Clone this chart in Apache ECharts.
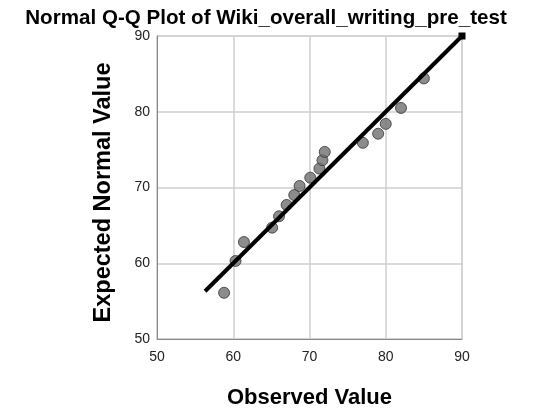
<!DOCTYPE html>
<html>
<head>
<meta charset="utf-8">
<script src="https://cdn.jsdelivr.net/npm/echarts@6/dist/echarts.min.js"></script>
<style>
  html, body { margin: 0; padding: 0; background: #fff; }
  #chart { width: 540px; height: 414px; }
</style>
</head>
<body>
<div id="chart"></div>
<script>
// Observed scores and their expected normal quantiles
var observed = [58.8, 60.3, 61.4, 65.1, 66.0, 67.0, 68.0, 68.7, 70.1, 71.3, 71.7, 72.0, 77.0, 79.0, 80.0, 82.0, 85.0];
var expected = [56.1, 60.3, 62.8, 64.7, 66.2, 67.7, 69.0, 70.2, 71.3, 72.5, 73.6, 74.7, 75.9, 77.1, 78.4, 80.5, 84.4];
// Reference line y = x
var refLine = [56.3, 90];
var xTicks = [50, 60, 70, 80, 90];
var yTicks = [50, 60, 70, 80, 90];

var points = observed.map(function (v, i) { return [v, expected[i]]; });
var lineData = refLine.map(function (v, i) {
  return i === 0 ? { value: [v, v], symbol: 'none' } : { value: [v, v] };
});

var chart = echarts.init(document.getElementById('chart'), null, { renderer: 'canvas' });
var font = 'Arial, "Liberation Sans", sans-serif';

chart.setOption({
  animation: false,
  title: {
    text: 'Normal Q-Q Plot of Wiki_overall_writing_pre_test',
    left: 261, top: 3, textAlign: 'center',
    textStyle: { fontFamily: font, fontSize: 20.6, fontWeight: 'bold', color: '#000' }
  },
  grid: { left: 157, right: 78, top: 36, bottom: 75, show: true, borderColor: '#c8c8c8', borderWidth: 1 },
  xAxis: {
    type: 'value', min: xTicks[0], max: xTicks[xTicks.length - 1], interval: 10,
    name: 'Observed Value', nameLocation: 'middle', nameGap: 48,
    nameTextStyle: { fontFamily: font, fontSize: 22, fontWeight: 'bold', color: '#000' },
    axisLine: { show: true, lineStyle: { color: '#888', width: 1 } },
    axisTick: { show: false },
    axisLabel: { fontFamily: font, fontSize: 14, color: '#222', margin: 11 },
    splitLine: { show: true, lineStyle: { color: '#cfcfcf', width: 1.5 } }
  },
  yAxis: {
    type: 'value', min: yTicks[0], max: yTicks[yTicks.length - 1], interval: 10,
    name: 'Expected Normal Value', nameLocation: 'middle', nameGap: 41, nameRotate: 90,
    nameTextStyle: { fontFamily: font, fontSize: 23.5, fontWeight: 'bold', color: '#000', padding: [0, 10, 0, 0] },
    axisLine: { show: true, lineStyle: { color: '#888', width: 1 } },
    axisTick: { show: false },
    axisLabel: { fontFamily: font, fontSize: 14, color: '#222', margin: 7 },
    splitLine: { show: true, lineStyle: { color: '#cfcfcf', width: 1.5 } }
  },
  series: [
    {
      type: 'line', data: lineData, symbol: 'rect', symbolSize: 7,
      lineStyle: { color: '#000', width: 4 },
      itemStyle: { color: '#000' }, z: 3, silent: true
    },
    {
      type: 'scatter', data: points, symbol: 'circle', symbolSize: 11,
      itemStyle: { color: '#6f6f6f', borderColor: '#333', borderWidth: 1 }, z: 2
    }
  ]
});
</script>
</body>
</html>
